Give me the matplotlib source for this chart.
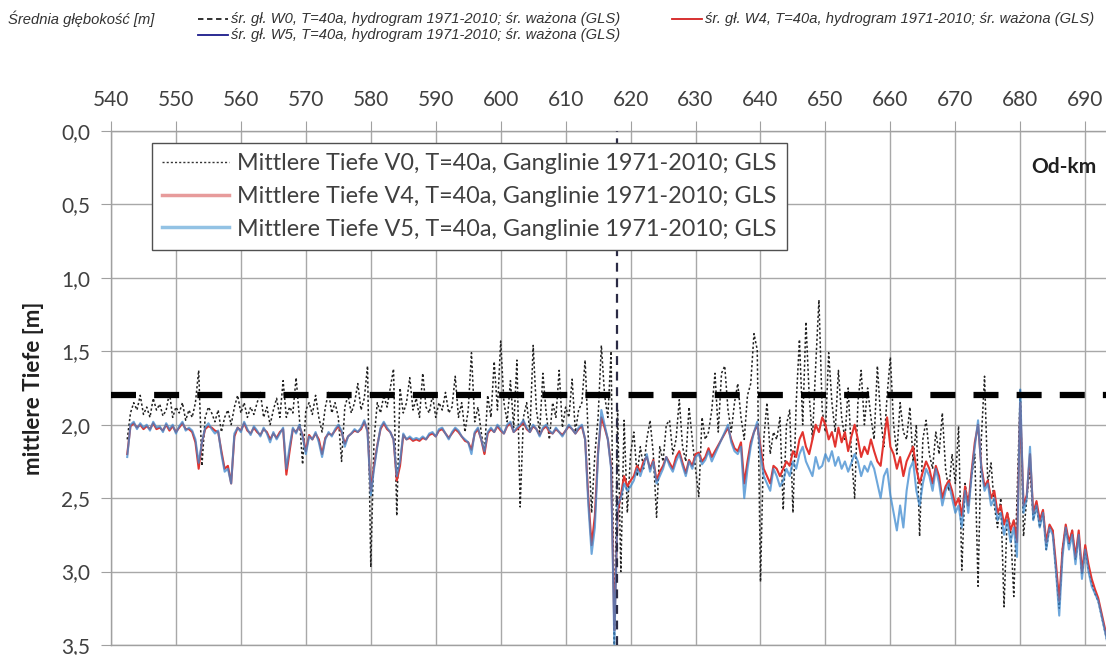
import numpy as np
import matplotlib
matplotlib.use("Agg")
import matplotlib.pyplot as plt
from matplotlib.lines import Line2D

# ---------------- data ----------------
km = np.arange(542.5, 693.51, 0.5)  # river km (Od-km)

depth_v0 = [
    2.10, 1.92, 1.85, 1.90, 1.80, 1.93, 1.88, 1.95, 1.82, 1.90,
    1.86, 1.94, 1.90, 1.78, 1.95, 1.88, 1.92, 1.85, 1.97, 1.90,
    1.95, 1.85, 1.63, 2.28, 1.95, 1.88, 1.92, 1.98, 1.90, 2.05,
    1.95, 1.90, 2.00, 1.88, 1.80, 1.92, 1.85, 1.95, 1.88, 1.93,
    1.85, 1.78, 1.95, 1.88, 2.00, 1.90, 1.82, 1.95, 1.70, 1.95,
    1.88, 1.92, 1.68, 1.95, 2.27, 1.90, 1.85, 1.93, 1.80, 1.95,
    2.05, 1.88, 1.78, 1.92, 1.85, 1.95, 2.25, 1.88, 1.80, 1.92,
    1.85, 1.72, 1.90, 1.82, 1.60, 2.97, 2.10, 1.85, 1.92, 1.80,
    1.88, 1.75, 1.62, 2.62, 1.75, 1.92, 1.85, 1.68, 1.90, 1.82,
    1.95, 1.65, 1.88, 1.92, 1.80, 1.95, 1.85, 1.90, 1.78, 1.92,
    1.88, 1.67, 1.95, 1.85, 2.05, 1.90, 1.51, 1.98, 1.88, 2.05,
    2.20, 1.80, 1.95, 1.57, 1.90, 1.43, 1.85, 1.98, 1.70, 2.02,
    1.56, 2.56, 1.95, 1.85, 2.05, 1.46, 1.90, 2.05, 1.65, 1.92,
    2.10, 1.85, 1.95, 1.63, 2.02, 1.88, 1.95, 1.69, 2.05, 1.90,
    1.85, 1.56, 2.10, 2.60, 2.20, 1.95, 1.46, 1.80, 1.95, 1.50,
    3.50, 1.90, 3.00, 1.97, 2.60, 2.20, 2.05, 2.35, 2.15, 2.30,
    2.10, 1.97, 2.20, 2.63, 2.15, 2.25, 2.00, 1.97, 2.20, 2.10,
    1.83, 2.15, 2.25, 1.88, 2.10, 2.30, 2.49, 1.95, 2.10, 2.05,
    1.90, 1.65, 2.05, 1.65, 1.60, 1.90, 2.05, 1.85, 1.72, 1.95,
    2.10, 1.80, 1.72, 1.38, 1.49, 3.07, 2.10, 1.85, 2.20, 2.05,
    2.10, 1.95, 2.58, 2.00, 1.90, 2.60, 1.85, 1.42, 2.00, 1.30,
    1.80, 2.10, 1.60, 1.15, 1.90, 2.05, 1.51, 1.85, 2.05, 1.63,
    1.95, 2.10, 1.75, 2.20, 2.50, 1.85, 1.63, 2.00, 1.75, 1.95,
    2.10, 1.60, 1.95, 2.15, 1.80, 1.54, 2.00, 2.20, 1.85, 2.05,
    2.10, 1.88, 2.25, 2.00, 2.76, 2.10, 1.97, 2.20, 2.30, 2.05,
    2.20, 1.92, 2.30, 2.45, 2.20, 2.40, 2.01, 2.99, 2.40, 2.55,
    2.35, 2.20, 3.10, 2.10, 1.67, 2.40, 2.26, 2.55, 2.70, 2.50,
    3.24, 2.60, 2.70, 3.17, 2.50, 1.76, 2.76, 2.50, 2.30, 2.65,
    2.55, 2.70, 2.58, 2.85, 2.70, 2.72, 3.00, 3.25, 2.85, 2.70,
    2.82, 2.72, 2.92, 2.75, 3.02, 2.85, 2.98, 3.08, 3.15, 3.20,
    3.30, 3.40, 3.50,
]

depth_v4 = [
    2.20, 2.01, 1.99, 2.02, 2.00, 2.03, 2.01, 2.03, 1.99, 2.03,
    2.02, 2.04, 2.00, 2.04, 2.01, 2.05, 2.02, 1.99, 2.03, 2.03,
    2.05, 2.12, 2.30, 2.12, 2.03, 2.01, 2.02, 2.04, 2.05, 2.18,
    2.30, 2.28, 2.40, 2.08, 2.02, 2.04, 1.99, 2.04, 2.06, 2.02,
    2.05, 2.07, 2.03, 2.05, 2.10, 2.06, 2.09, 2.05, 2.03, 2.34,
    2.18, 2.03, 2.05, 2.01, 2.07, 2.18, 2.07, 2.10, 2.06, 2.10,
    2.20, 2.09, 2.06, 2.07, 2.04, 2.01, 2.05, 2.13, 2.08, 2.06,
    2.04, 2.05, 2.03, 1.98, 2.04, 2.45, 2.28, 2.14, 2.03, 1.99,
    2.03, 2.05, 2.10, 2.38, 2.28, 2.07, 2.10, 2.09, 2.11, 2.10,
    2.11, 2.09, 2.10, 2.07, 2.06, 2.08, 2.04, 2.03, 2.06, 2.09,
    2.06, 2.03, 2.05, 2.08, 2.11, 2.12, 2.17, 2.06, 2.03, 2.10,
    2.20, 2.06, 2.03, 2.05, 2.01, 2.04, 2.06, 2.01, 1.99, 2.05,
    2.03, 2.01, 1.98, 2.03, 2.05, 2.01, 2.03, 2.07, 2.03, 2.01,
    2.05, 2.06, 2.03, 2.05, 2.07, 2.04, 2.01, 2.03, 2.06, 2.03,
    2.01, 2.10, 2.50, 2.82, 2.62, 2.18, 1.95, 2.02, 2.10, 2.28,
    3.40, 2.60, 2.48, 2.35, 2.42, 2.38, 2.35, 2.28, 2.32, 2.25,
    2.22, 2.30, 2.24, 2.38, 2.32, 2.28, 2.22, 2.26, 2.30, 2.22,
    2.18, 2.26, 2.33, 2.24, 2.28, 2.20, 2.19, 2.25, 2.22, 2.16,
    2.22, 2.18, 2.14, 2.10, 2.06, 2.02, 2.10, 2.16, 2.18, 2.12,
    2.40, 2.25, 2.12, 2.05, 2.00, 2.15, 2.30, 2.35, 2.40, 2.28,
    2.30, 2.35, 2.30, 2.25, 2.28, 2.18, 2.22, 2.10, 2.05, 2.15,
    2.20, 2.10, 2.00, 2.05, 1.95, 2.00, 2.10, 2.05, 2.15, 2.02,
    2.12, 2.05, 2.18, 2.08, 2.00, 2.10, 2.22, 2.15, 2.20, 2.10,
    2.18, 2.25, 2.28, 2.10, 1.95, 2.15, 2.20, 2.30, 2.22, 2.35,
    2.25, 2.20, 2.15, 2.30, 2.40, 2.32, 2.25, 2.30, 2.40, 2.28,
    2.35, 2.50, 2.42, 2.38, 2.45, 2.55, 2.50, 2.62, 2.42, 2.55,
    2.32, 2.12, 2.00, 2.28, 2.42, 2.38, 2.50, 2.45, 2.60, 2.55,
    2.68, 2.60, 2.72, 2.65, 2.80, 1.85, 2.55, 2.48, 2.20, 2.60,
    2.52, 2.65, 2.58, 2.80, 2.68, 2.72, 2.95, 3.20, 2.85, 2.68,
    2.80, 2.72, 2.90, 2.72, 3.00, 2.82, 2.95, 3.05, 3.12, 3.18,
    3.28, 3.38, 3.48,
]

depth_v5 = [
    2.22, 2.00, 1.98, 2.03, 1.99, 2.02, 2.00, 2.04, 1.98, 2.02,
    2.01, 2.05, 1.99, 2.03, 2.00, 2.06, 2.01, 1.98, 2.04, 2.02,
    2.04, 2.10, 2.26, 2.12, 2.02, 1.99, 2.03, 2.06, 2.04, 2.20,
    2.32, 2.30, 2.40, 2.06, 2.02, 2.05, 1.98, 2.03, 2.07, 2.01,
    2.04, 2.08, 2.02, 2.06, 2.12, 2.05, 2.10, 2.06, 2.02, 2.30,
    2.15, 2.02, 2.06, 2.00, 2.08, 2.20, 2.08, 2.10, 2.05, 2.12,
    2.22, 2.10, 2.05, 2.08, 2.03, 2.00, 2.04, 2.15, 2.08, 2.06,
    2.03, 2.05, 2.02, 1.97, 2.05, 2.48, 2.30, 2.15, 2.02, 1.98,
    2.02, 2.05, 2.10, 2.35, 2.25, 2.06, 2.10, 2.08, 2.10, 2.09,
    2.10, 2.08, 2.10, 2.06, 2.05, 2.08, 2.03, 2.02, 2.06, 2.10,
    2.05, 2.02, 2.04, 2.08, 2.10, 2.12, 2.20, 2.05, 2.02, 2.10,
    2.18, 2.05, 2.02, 2.05, 2.00, 2.03, 2.06, 2.00, 1.98, 2.05,
    2.02, 2.00, 1.97, 2.02, 2.05, 2.00, 2.03, 2.08, 2.02, 2.00,
    2.04, 2.06, 2.02, 2.05, 2.08, 2.04, 2.00, 2.03, 2.06, 2.02,
    2.00, 2.10, 2.55, 2.88, 2.70, 2.20, 1.90, 2.00, 2.10, 2.30,
    3.50, 2.55, 2.50, 2.40, 2.45, 2.42, 2.38, 2.30, 2.35, 2.28,
    2.20, 2.32, 2.25, 2.40, 2.35, 2.30, 2.22, 2.28, 2.32, 2.25,
    2.20, 2.28, 2.35, 2.25, 2.30, 2.22, 2.20, 2.27, 2.24, 2.18,
    2.25, 2.20, 2.15, 2.10, 2.05, 2.00, 2.12, 2.18, 2.20, 2.15,
    2.50, 2.30, 2.15, 2.05, 1.98, 2.20, 2.35, 2.40, 2.45, 2.30,
    2.35, 2.42, 2.38, 2.30, 2.35, 2.25, 2.30, 2.20, 2.15, 2.25,
    2.30, 2.35, 2.22, 2.30, 2.28, 2.20, 2.25, 2.18, 2.28, 2.22,
    2.30, 2.25, 2.32, 2.26, 2.20, 2.25, 2.35, 2.28, 2.32, 2.25,
    2.30, 2.40, 2.50, 2.35, 2.30, 2.48, 2.60, 2.72, 2.55, 2.70,
    2.45, 2.30, 2.25, 2.45, 2.55, 2.40, 2.30, 2.35, 2.45, 2.30,
    2.40, 2.55, 2.45, 2.40, 2.50, 2.60, 2.55, 2.70, 2.45, 2.60,
    2.35, 2.15, 1.97, 2.30, 2.45, 2.40, 2.55, 2.50, 2.65, 2.60,
    2.75, 2.65, 2.80, 2.70, 2.90, 1.76, 2.60, 2.50, 2.15, 2.65,
    2.55, 2.70, 2.60, 2.85, 2.70, 2.75, 3.00, 3.30, 2.90, 2.70,
    2.85, 2.75, 2.95, 2.75, 3.05, 2.85, 3.00, 3.10, 3.15, 3.20,
    3.30, 3.40, 3.50,
]

threshold_depth = 1.8
marker_km = 617.9

x_ticks = list(range(540, 691, 10))
y_ticks = [0.0, 0.5, 1.0, 1.5, 2.0, 2.5, 3.0, 3.5]
y_tick_labels = ["0,0", "0,5", "1,0", "1,5", "2,0", "2,5", "3,0", "3,5"]

labels_de = [
    "Mittlere Tiefe V0, T=40a, Ganglinie 1971-2010; GLS",
    "Mittlere Tiefe V4, T=40a, Ganglinie 1971-2010; GLS",
    "Mittlere Tiefe V5, T=40a, Ganglinie 1971-2010; GLS",
]
labels_pl = [
    "śr. gł. W0, T=40a, hydrogram 1971-2010; śr. ważona (GLS)",
    "śr. gł. W4, T=40a, hydrogram 1971-2010; śr. ważona (GLS)",
    "śr. gł. W5, T=40a, hydrogram 1971-2010; śr. ważona (GLS)",
]

# ---------------- figure ----------------
W, H = 1106, 655
fig = plt.figure(figsize=(W / 100, H / 100), dpi=100)
fig.patch.set_facecolor("white")

ax_l, ax_r, ax_t, ax_b = 111, 1106, 131, 645
ax = fig.add_axes([ax_l / W, 1 - ax_b / H, (ax_r - ax_l) / W, (ax_b - ax_t) / H])

FONT = "Lato"
TXT = "#404040"
RED = "#e2342f"
BLUE = "#3d8ad0"

ax.plot(km, depth_v0, color="#222222", lw=1.1, ls=(0, (1.5, 1.5)), zorder=3)
ax.plot(km, depth_v4, color=RED, lw=1.5, zorder=4)
ax.plot(km, depth_v5, color=BLUE, lw=1.5, alpha=0.75, zorder=5)

ax.axhline(threshold_depth, color="black", lw=4.5, ls=(0, (4.0, 2.9)), zorder=6)
ax.axvline(marker_km, color="#2b2b45", lw=1.6, ls=(0, (4, 3)), zorder=6)

ax.set_xlim(540, 693.2)
ax.set_ylim(3.5, 0.0)
ax.xaxis.tick_top()
ax.set_xticks(x_ticks)
ax.set_xticklabels([str(t) for t in x_ticks], fontsize=15, family=FONT, color=TXT)
ax.set_yticks(y_ticks)
ax.set_yticklabels(y_tick_labels, fontsize=15, family=FONT, color=TXT)
ax.tick_params(axis="x", which="both", length=7, color="#a0a0a0", pad=8, top=True, bottom=False)
ax.tick_params(axis="y", which="both", length=7, color="#a0a0a0", pad=8)
ax.grid(True, color="#a8a8a8", lw=1.0, zorder=0)
ax.set_axisbelow(True)
for name, sp in ax.spines.items():
    sp.set_color("#a0a0a0")
    sp.set_linewidth(1.0)
ax.spines["right"].set_visible(False)

ax.set_ylabel("mittlere Tiefe [m]", fontsize=16, family=FONT, fontweight="bold",
              color="#202020", labelpad=12)

ax.text(0.99, 0.93, "Od-km", transform=ax.transAxes, ha="right", va="center",
        fontsize=15, family=FONT, fontweight="bold", color="#202020")

handles = [
    Line2D([], [], color="#333333", lw=1.0, ls=(0, (1.5, 1.5))),
    Line2D([], [], color="#e79b9b", lw=2.5),
    Line2D([], [], color="#92c2e4", lw=2.5),
]
leg = ax.legend(handles, labels_de, loc="upper left", bbox_to_anchor=(0.041, 0.977),
                borderaxespad=0, frameon=True, fancybox=False, framealpha=1,
                edgecolor="#505050", handlelength=2.85, labelspacing=0.5,
                borderpad=0.45, handletextpad=0.35,
                prop={"family": FONT, "size": 16.8})
leg.get_frame().set_linewidth(1.0)
for t in leg.get_texts():
    t.set_color(TXT)
leg.set_zorder(10)

# ---------------- Polish header legend ----------------
PL = dict(family="Liberation Sans", style="italic", fontsize=10.6, color="#333333", va="center")
fig.text(8 / W, 1 - 19 / H, "Średnia głębokość [m]", **PL)

def header_entry(x0, y, color, ls, text):
    fig.add_artist(Line2D([x0 / W, (x0 + 30) / W], [1 - y / H, 1 - y / H],
                          color=color, lw=1.3, ls=ls, transform=fig.transFigure))
    fig.text((x0 + 33) / W, 1 - y / H, text, **PL)

header_entry(198, 19, "#222222", (0, (3, 2)), labels_pl[0])
header_entry(672, 19, "#d42020", "-", labels_pl[1])
header_entry(198, 35, "#1a1a8a", "-", labels_pl[2])

fig.savefig("out.png", dpi=100)
